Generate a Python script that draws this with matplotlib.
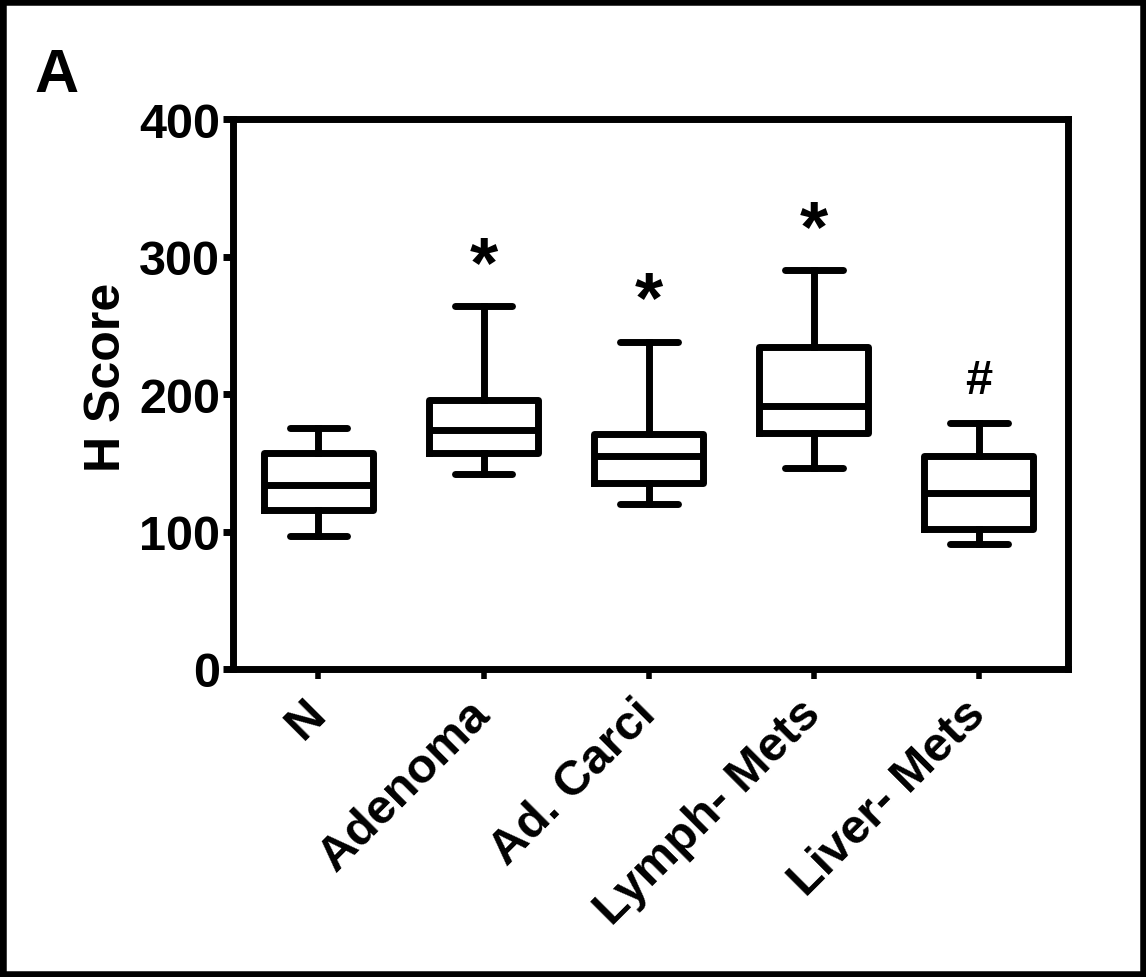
import matplotlib

matplotlib.use("Agg")

import matplotlib.pyplot as plt
from matplotlib.patches import Rectangle

GROUPS = ["N", "Adenoma", "Ad. Carci", "Lymph- Mets", "Liver- Mets"]
WHISK_LO = [97, 142, 120, 146, 91]
Q1 = [116, 157, 135, 172, 102]
MEDIAN = [134, 174, 155, 191, 128]
Q3 = [157, 196, 171, 234, 155]
WHISK_HI = [175, 264, 238, 290, 179]
MARKS = ["*", "*", "*", "#"]
MARKED = [1, 2, 3, 4]
Y_TICKS = [0, 100, 200, 300, 400]

plt.rcParams.update(
    {
        "font.family": ["Liberation Sans", "DejaVu Sans"],
        "font.weight": "bold",
    }
)

fig = plt.figure(figsize=(11.46, 9.78), dpi=100)
ax = fig.add_axes([0.203, 0.315, 0.729, 0.562])

stats = []
for i, name in enumerate(GROUPS):
    stats.append(
        {
            "label": name,
            "whislo": WHISK_LO[i],
            "q1": Q1[i],
            "med": MEDIAN[i],
            "q3": Q3[i],
            "whishi": WHISK_HI[i],
            "fliers": [],
        }
    )

lw = 5
positions = list(range(1, len(GROUPS) + 1))
ax.bxp(
    stats,
    positions=positions,
    widths=0.66,
    capwidths=0.35,
    showfliers=False,
    boxprops={"color": "black", "linewidth": lw},
    medianprops={"color": "black", "linewidth": lw},
    whiskerprops={"color": "black", "linewidth": lw},
    capprops={"color": "black", "linewidth": lw, "solid_capstyle": "round"},
)

# significance marks, baseline placed just above the upper whisker
for mark, idx in zip(MARKS, MARKED):
    if mark == "*":
        ax.text(positions[idx], WHISK_HI[idx] + 15, mark, ha="center",
                va="baseline", fontsize=52, fontweight="bold")
    else:
        ax.text(positions[idx], WHISK_HI[idx] + 22, mark, ha="center",
                va="baseline", fontsize=35, fontweight="bold")

ax.set_xlim(0.48, 5.54)
ax.set_ylim(0, 400)
ax.set_yticks(Y_TICKS)
ax.set_yticklabels([str(v) for v in Y_TICKS], fontsize=35, fontweight="bold")
ax.set_xticks(positions)
ax.set_xticklabels(
    GROUPS,
    fontsize=35,
    fontweight="bold",
    rotation=45,
    ha="right",
    va="center",
    rotation_mode="anchor",
)

ax.set_ylabel("H Score", fontsize=36, fontweight="bold")
ax.yaxis.set_label_coords(-0.123, 0.533)
ax.tick_params(axis="y", length=7, width=5, pad=2)
ax.tick_params(axis="x", length=7, width=4, pad=20)
for spine in ax.spines.values():
    spine.set_linewidth(5)

fig.text(0.03, 0.922, "A", fontsize=44, fontweight="bold", ha="left", va="center")

fig.patches.append(
    Rectangle(
        (0, 0), 1, 1, transform=fig.transFigure, fill=False,
        edgecolor="black", linewidth=9, figure=fig,
    )
)

fig.savefig("out.png", dpi=100, facecolor="white")
